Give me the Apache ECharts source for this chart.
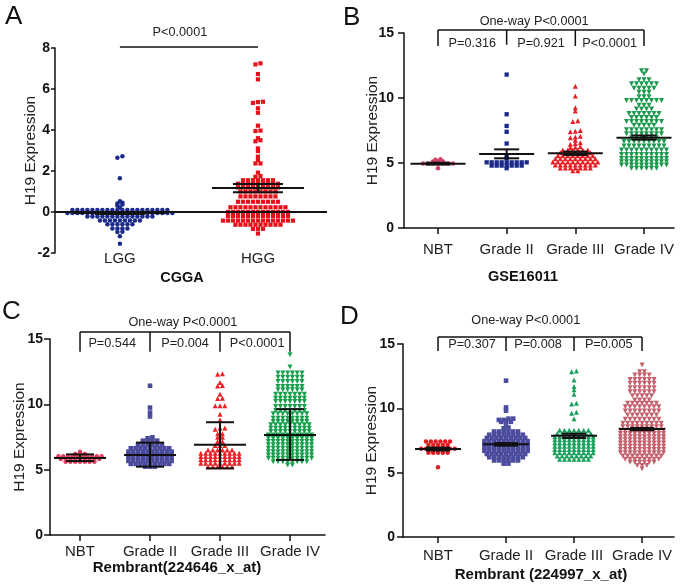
<!DOCTYPE html>
<html><head><meta charset="utf-8">
<script src="https://cdn.jsdelivr.net/npm/echarts@6/dist/echarts.min.js"></script>
<style>html,body{margin:0;padding:0;background:#fff}#c{width:682px;height:588px}</style>
</head><body><div id="c"></div>
<script>
// ---------------- DATA ----------------
const aCats = ['LGG','HGG'];
const gradeCats = ['NBT','Grade II','Grade III','Grade IV'];

// Panel A (CGGA)
const aLGG = [2.72,2.65,1.65,0.53,0.45,0.42,0.36,0.3,0.22,
0.1,0.1,0.1,0.1,0.1,0.1,0.1,0.1,0.1,0.1,0.1,0.1,0.1,0.1,0.1,0.1,0.1,0.1,0.1,0.1,
-0.05,-0.05,-0.05,-0.05,-0.05,-0.05,-0.05,-0.05,-0.05,-0.05,-0.05,-0.05,-0.05,-0.05,-0.05,-0.05,-0.05,-0.05,-0.05,-0.05,-0.05,-0.05,
-0.22,-0.22,-0.22,-0.22,-0.22,-0.22,-0.22,-0.22,-0.22,-0.22,-0.22,-0.22,-0.22,-0.22,
-0.42,-0.42,-0.42,-0.42,-0.42,-0.42,-0.42,-0.42,-0.42,
-0.6,-0.6,-0.6,-0.6,-0.6,-0.6,
-0.8,-0.8,-0.8,-0.8,
-0.96,-0.97,-1.18,-1.55];
const aHGG = [7.25,7.2,6.73,6.47,5.38,5.36,5.32,5.06,4.84,4.21,3.97,3.95,3.6,3.5,3.45,3.1,2.97,2.7,2.54,2.37,2.37,1.92,1.75,1.72,
1.55,1.55,1.55,1.55,1.55,1.55,1.55,
1.38,1.38,1.38,1.38,1.38,1.38,1.38,1.38,1.38,
1.2,1.2,1.2,1.2,1.2,1.2,1.2,1.2,1.2,
1.0,1.0,1.0,1.0,1.0,1.0,1.0,1.0,
0.76,0.76,0.76,0.76,0.76,0.76,0.76,0.76,
0.5,0.5,0.5,0.5,0.5,0.5,0.5,0.5,0.5,
0.23,0.23,0.23,0.23,0.23,0.23,0.23,0.23,0.23,0.23,0.23,0.23,
0,0,0,0,0,0,0,0,0,0,0,0,0,
-0.2,-0.2,-0.2,-0.2,-0.2,-0.2,-0.2,-0.2,-0.2,-0.2,-0.2,-0.2,-0.2,
-0.42,-0.42,-0.42,-0.42,-0.42,-0.42,-0.42,-0.42,-0.42,-0.42,-0.42,-0.42,-0.42,-0.42,-0.42,
-0.62,-0.62,-0.62,-0.62,-0.62,-0.62,-0.62,-0.62,-0.62,-0.62,
-0.82,-0.82,-0.82,-1.05];
const aMean = [-0.05, 1.17];
const aLo   = [-0.1, 0.96];
const aHi   = [0.0, 1.36];

// Panel B (GSE16011)
const bNBT = [5.28,5.25,5.12,5.12,5.12,4.97,4.97,4.97,4.97,4.97,4.97,4.97,4.6];
const bG2 = [11.8,8.75,7.85,7.4,6.5,5.55,5.35,
5.05,5.05,5.05,5.05,5.05,5.05,5.05,5.05,5.05,
4.8,4.8,4.8,4.8,4.8,4.8,4.8,4.6];
const bG3 = [10.9,10.15,9.25,9.0,8.25,8.2,7.5,7.45,7.4,7.05,7.0,6.95,6.75,6.55,6.5,6.45,6.25,6.22,6.2,
6.0,6.0,6.0,6.0,6.0,6.0,
5.78,5.78,5.78,5.78,5.78,5.78,5.78,
5.55,5.55,5.55,5.55,5.55,5.55,5.55,5.55,
5.32,5.32,5.32,5.32,5.32,5.32,5.32,5.32,5.32,
5.08,5.08,5.08,5.08,5.08,5.08,5.08,5.08,5.08,5.08,
4.85,4.85,4.85,4.85,4.85,4.85,4.85,4.85,4.85,
4.62,4.62,4.62,4.62,4.62,4.62,4.62,
4.4,4.4];
const bG4 = [12.1,12.1,11.85,11.4,11.4,11.4,
11.1,11.1,11.1,11.1,11.1,11.1,
10.75,10.75,10.75,10.75,10.75,
10.45,10.45,10.45,10.1,10.1,10.1,
9.8,9.8,9.8,9.8,9.8,9.8,9.8,9.8,
9.45,9.45,9.45,9.15,9.15,9.15,9.15,
8.8,8.8,8.8,8.8,8.8,8.8,8.8,
8.5,8.5,8.5,8.5,8.5,8.5,
8.2,8.2,8.2,8.2,8.2,8.2,8.2,8.2,
7.9,7.9,7.9,7.9,7.9,
7.55,7.55,7.55,7.55,7.55,7.55,7.55,7.55,
7.25,7.25,7.25,7.25,7.25,7.25,7.25,7.25,
6.95,6.95,6.95,6.95,6.95,6.95,
6.65,6.65,6.65,6.65,6.65,6.65,6.65,6.65,6.65,
6.3,6.3,6.3,6.3,6.3,6.3,6.3,6.3,6.3,
6.0,6.0,6.0,6.0,6.0,6.0,6.0,6.0,6.0,6.0,
5.65,5.65,5.65,5.65,5.65,5.65,5.65,5.65,5.65,5.65,
5.35,5.35,5.35,5.35,5.35,5.35,5.35,5.35,5.35,5.35,
5.1,5.1,5.1,5.1,5.1,5.1,5.1,5.1,5.1,5.1,
4.85,4.85,4.85,4.85,4.85,4.85,4.85,4.85,4.85,4.85,
4.6,4.6,4.6,4.6,4.6,4.6];
const bMean = [4.95, 5.69, 5.75, 6.95];
const bLo   = [4.88, 5.36, 5.62, 6.8];
const bHi   = [5.02, 6.05, 5.88, 7.12];

// Panel C (Rembrant 224646_x_at)
const cNBT = [6.38,6.2,6.2,6.2,
6.02,6.02,6.02,6.02,6.02,6.02,6.02,6.02,6.02,6.02,
5.82,5.82,5.82,5.82,5.82,5.82,5.82,5.82,5.82,
5.6,5.6,5.6,5.6,5.6,5.6,5.6];
const cG2 = [11.42,9.75,9.37,9.07,7.48,7.4,7.22,7.22,7.22,7.22,
6.9,6.9,6.9,6.9,6.9,6.9,
6.64,6.64,6.64,6.64,6.64,6.64,6.64,6.64,6.64,
6.38,6.38,6.38,6.38,6.38,6.38,6.38,6.38,6.38,6.38,
6.18,6.18,6.18,6.18,6.18,6.18,6.18,6.18,6.18,6.18,
5.92,5.92,5.92,5.92,5.92,5.92,5.92,5.92,5.92,5.92,
5.67,5.67,5.67,5.67,5.67,5.67,5.67,5.67,5.67,5.67,
5.44,5.44,5.44,5.44,5.44,5.44,5.44,5.44,5.44,
5.23,5.23,5.23];
const cG3 = [12.35,12.31,11.67,11.44,11.4,10.78,10.47,10.45,9.9,9.9,9.9,9.25,8.81,8.18,8.18,8.1,7.74,7.74,7.48,7.48,7.15,7.15,6.84,6.84,6.84,
6.51,6.51,6.51,6.51,6.51,6.51,
6.26,6.26,6.26,6.26,6.26,6.26,6.26,6.26,6.26,
6.0,6.0,6.0,6.0,6.0,6.0,6.0,6.0,6.0,
5.75,5.75,5.75,5.75,5.75,5.75,5.75,5.75,5.75,
5.49,5.49,5.49,5.49,5.49,5.49,5.49,5.49,5.49,
5.23,5.23,5.23,5.23,5.23,5.23];
const cG4 = [13.79,12.85,
12.39,12.39,12.39,12.39,12.39,12.39,
12.08,12.08,12.08,12.08,12.08,12.08,
11.75,11.75,11.75,11.75,11.75,11.75,
11.37,11.37,11.37,11.37,11.37,11.37,
11.11,11.11,11.11,11.11,11.11,11.11,
10.78,10.78,10.78,10.78,10.78,10.78,10.78,
10.47,10.47,10.47,10.47,10.47,10.47,10.47,
10.21,10.21,10.21,10.21,10.21,10.21,10.21,
9.83,9.83,9.83,9.83,9.83,9.83,9.83,
9.52,9.52,9.52,9.52,9.52,9.52,9.52,
9.27,9.27,9.27,9.27,9.27,9.27,9.27,9.27,
8.94,8.94,8.94,8.94,8.94,8.94,8.94,8.94,
8.68,8.68,8.68,8.68,8.68,8.68,8.68,8.68,
8.43,8.43,8.43,8.43,8.43,8.43,8.43,8.43,8.43,
8.17,8.17,8.17,8.17,8.17,8.17,8.17,8.17,8.17,
7.92,7.92,7.92,7.92,7.92,7.92,7.92,7.92,7.92,
7.66,7.66,7.66,7.66,7.66,7.66,7.66,7.66,7.66,7.66,
7.41,7.41,7.41,7.41,7.41,7.41,7.41,7.41,7.41,7.41,
7.15,7.15,7.15,7.15,7.15,7.15,7.15,7.15,7.15,7.15,
6.9,6.9,6.9,6.9,6.9,6.9,6.9,6.9,6.9,6.9,
6.64,6.64,6.64,6.64,6.64,6.64,6.64,6.64,6.64,6.64,
6.38,6.38,6.38,6.38,6.38,6.38,6.38,6.38,6.38,6.38,
6.13,6.13,6.13,6.13,6.13,6.13,6.13,6.13,6.13,6.13,
5.87,5.87,5.87,5.87,5.87,5.87,5.87,5.87,5.87,5.87,
5.61,5.61,5.61,5.61,5.61,5.61,5.61,5.61,
5.36,5.36];
const cMean = [5.9, 6.13, 6.9, 7.66];
const cLo   = [5.66, 5.23, 5.1, 5.75];
const cHi   = [6.17, 7.07, 8.63, 9.63];

// Panel D (Rembrant 224997_x_at)
const dNBT = [7.42,7.42,7.42,7.42,7.42,7.42,
7.15,7.15,7.15,7.15,7.15,
6.85,6.85,6.85,6.85,6.85,6.85,6.85,6.85,
6.55,6.55,6.55,6.55,6.55,5.42];
const dG2 = [12.15,10.07,9.82,9.2,9.2,9.1,9.1,8.95,8.95,8.95,8.6,8.5,8.45,
8.2,8.2,8.2,8.2,8.2,8.2,
7.95,7.95,7.95,7.95,7.95,7.95,7.95,7.95,
7.7,7.7,7.7,7.7,7.7,7.7,7.7,7.7,7.7,
7.45,7.45,7.45,7.45,7.45,7.45,7.45,7.45,7.45,7.45,
7.2,7.2,7.2,7.2,7.2,7.2,7.2,7.2,7.2,7.2,
6.95,6.95,6.95,6.95,6.95,6.95,6.95,6.95,6.95,6.95,
6.7,6.7,6.7,6.7,6.7,6.7,6.7,6.7,6.7,6.7,
6.45,6.45,6.45,6.45,6.45,6.45,6.45,6.45,6.45,
6.2,6.2,6.2,6.2,6.2,6.2,6.2,6.2,
5.95,5.95,5.95,5.95,5.95,5.95,
5.7,5.7];
const dG3 = [12.9,12.85,12.2,11.7,11.45,11.1,10.4,10.33,9.7,9.62,9.2,
8.3,8.3,8.3,8.3,8.3,8.3,8.3,
8.05,8.05,8.05,8.05,8.05,8.05,8.05,8.05,
7.8,7.8,7.8,7.8,7.8,7.8,7.8,7.8,7.8,
7.55,7.55,7.55,7.55,7.55,7.55,7.55,7.55,7.55,
7.3,7.3,7.3,7.3,7.3,7.3,7.3,7.3,7.3,
7.05,7.05,7.05,7.05,7.05,7.05,7.05,7.05,7.05,
6.8,6.8,6.8,6.8,6.8,6.8,6.8,6.8,6.8,
6.55,6.55,6.55,6.55,6.55,6.55,6.55,6.55,6.55,
6.3,6.3,6.3,6.3,6.3,6.3,6.3,6.3,
6.05,6.05,6.05,6.05,6.05,6.05,6.05];
const dG4 = [13.36,12.85,12.85,
12.59,12.59,12.59,12.59,
12.25,12.25,12.25,12.25,12.25,12.25,
11.94,11.94,11.94,11.94,11.94,11.94,
11.6,11.6,11.6,11.6,11.6,11.6,
11.29,11.29,11.29,11.29,11.29,11.29,
10.98,10.98,10.98,10.98,10.98,
10.64,10.64,10.64,10.64,
10.39,10.39,10.39,10.39,10.39,10.39,10.39,
10.13,10.13,10.13,10.13,10.13,10.13,10.13,10.13,
9.79,9.79,9.79,9.79,9.79,9.79,9.79,9.79,
9.48,9.48,9.48,9.48,9.48,9.48,9.48,
9.15,9.15,9.15,9.15,9.15,9.15,9.15,9.15,
8.84,8.84,8.84,8.84,8.84,8.84,8.84,8.84,8.84,
8.57,8.57,8.57,8.57,8.57,8.57,8.57,8.57,8.57,
8.3,8.3,8.3,8.3,8.3,8.3,8.3,8.3,8.3,8.3,
8.05,8.05,8.05,8.05,8.05,8.05,8.05,8.05,8.05,8.05,
7.8,7.8,7.8,7.8,7.8,7.8,7.8,7.8,7.8,7.8,
7.55,7.55,7.55,7.55,7.55,7.55,7.55,7.55,7.55,7.55,
7.3,7.3,7.3,7.3,7.3,7.3,7.3,7.3,7.3,7.3,
7.05,7.05,7.05,7.05,7.05,7.05,7.05,7.05,7.05,7.05,
6.8,6.8,6.8,6.8,6.8,6.8,6.8,6.8,6.8,6.8,
6.55,6.55,6.55,6.55,6.55,6.55,6.55,6.55,6.55,6.55,
6.3,6.3,6.3,6.3,6.3,6.3,6.3,6.3,6.3,
6.05,6.05,6.05,6.05,6.05,6.05,6.05,6.05,
5.8,5.8,5.8,5.8,5.8,5.8,
5.55,5.55,5.55,5.3];
const dMean = [6.83, 7.2, 7.87, 8.39];
const dLo   = [6.72, 7.1, 7.7, 8.3];
const dHi   = [6.95, 7.3, 8.03, 8.48];

// --------------- LAYOUT / STYLE ---------------
const FONT = '"Liberation Sans", Arial, Helvetica, sans-serif';
const INK = '#111';
const TXT = '#222';

const panels = [
 { letter:'A', letterPos:[5,17], title:'CGGA', titlePos:[182,278], titleSize:14.5,
   grid:{left:55,top:48,width:272,height:205}, xr:[-0.47,1.5], yr:[-2,8,2],
   cats:aCats, xLine:false, labelMargin:-2, yLabelMargin:5, yTick:4, nameGap:16,
   groups:[{vals:aLGG,color:'#1c2a8c',symbol:'circle',size:4.5},
           {vals:aHGG,color:'#e5121c',symbol:'rect',size:4.2}],
   stats:[aMean,aLo,aHi], meanW:92, capW:50, spacing:5,
   zeroLine:true,
   lines:[[0,8.05,1,8.05]],
   texts:[[0.435,8.78,'P<0.0001']] },
 { letter:'B', letterPos:[343,18], title:'GSE16011', titlePos:[523,277], titleSize:14.5,
   grid:{left:404,top:33,width:270,height:195}, xr:[-0.495,3.437], yr:[0,15,5],
   cats:gradeCats, xLine:true, labelMargin:14, yLabelMargin:10, yTick:6, nameGap:23.5,
   groups:[{vals:bNBT,color:'#d23f66',symbol:'circle',size:4.5},
           {vals:bG2,color:'#1b2a8a',symbol:'rect',size:4.3},
           {vals:bG3,color:'#e81e25',symbol:'triangle',size:5},
           {vals:bG4,color:'#1a9a4c',symbol:'triangle',size:5,rot:180}],
   stats:[bMean,bLo,bHi], meanW:55, capW:25, spacing:5,
   lines:[[0,15.23,3,15.23],[0,15.23,0,14.0],[1,15.23,1,14.1],[2,15.23,2,14.0],[3,15.23,3,14.0]],
   texts:[[1.4,15.92,'One-way P<0.0001'],[0.5,14.23,'P=0.316'],[1.5,14.23,'P=0.921'],[2.5,14.23,'P<0.0001']] },
 { letter:'C', letterPos:[2,312], title:'Rembrant(224646_x_at)', titlePos:[177,568], titleSize:15,
   grid:{left:50,top:339,width:275,height:196}, xr:[-0.429,3.5], yr:[0,15,5],
   cats:gradeCats, xLine:true, labelMargin:9, yLabelMargin:7, yTick:6, nameGap:22.5,
   groups:[{vals:cNBT,color:'#e0405e',symbol:'circle',size:4.5},
           {vals:cG2,color:'#4a4b9c',symbol:'rect',size:4.6},
           {vals:cG3,color:'#ec2227',symbol:'triangle',size:5},
           {vals:cG4,color:'#17a04c',symbol:'triangle',size:5,rot:180}],
   stats:[cMean,cLo,cHi], meanW:52, capW:28, spacing:4.8,
   lines:[[0,15.53,3,15.53],[0,15.53,0,14.03],[1,15.53,1,14.03],[2,15.53,2,14.03],[3,15.53,3,14.03]],
   texts:[[1.47,16.3,'One-way P<0.0001'],[0.46,14.69,'P=0.544'],[1.5,14.69,'P=0.004'],[2.53,14.69,'P<0.0001']] },
 { letter:'D', letterPos:[340,317], title:'Rembrant (224997_x_at)', titlePos:[541,575], titleSize:15,
   grid:{left:403,top:344,width:271,height:193}, xr:[-0.515,3.47], yr:[0,15,5],
   cats:gradeCats, xLine:true, labelMargin:11.5, yLabelMargin:8, yTick:6, nameGap:23,
   groups:[{vals:dNBT,color:'#e41b22',symbol:'circle',size:4.5},
           {vals:dG2,color:'#4c4c9e',symbol:'rect',size:4.6},
           {vals:dG3,color:'#1aa05c',symbol:'triangle',size:5},
           {vals:dG4,color:'#c4616c',symbol:'triangle',size:5,rot:180}],
   stats:[dMean,dLo,dHi], meanW:46, capW:24, spacing:4.8,
   lines:[[0,15.54,3,15.54],[0,15.54,0,14.45],[1,15.54,1,14.45],[2,15.54,2,14.45],[3,15.54,3,14.45]],
   texts:[[1.29,16.86,'One-way P<0.0001'],[0.5,15.0,'P=0.307'],[1.47,15.0,'P=0.008'],[2.51,15.0,'P=0.005']] }
];

// Prism-like row layout: points of (nearly) equal value share a row and are spread horizontally
function layoutGroup(vals, cat, pxPerY, pxPerX, spacing) {
  const tol = 1.5;
  const order = vals.map((v,i)=>i).sort((a,b)=>vals[a]-vals[b]);
  const out = new Array(vals.length);
  let row = [], start = 0;
  const flush = () => {
    const n = row.length;
    row.forEach((i,k)=>{ out[i] = [cat + (k-(n-1)/2)*spacing/pxPerX, vals[i]]; });
    row = [];
  };
  for (const i of order) {
    const py = vals[i]*pxPerY;
    if (row.length && py - start > tol) flush();
    if (!row.length) start = py;
    row.push(i);
  }
  flush();
  return out;
}

const grids=[], xAxes=[], yAxes=[], series=[], graphics=[];
const axisLineStyle = {color:INK, width:1.5};

panels.forEach((p, gi) => {
  grids.push(Object.assign({containLabel:false}, p.grid));
  const pxPerX = p.grid.width/(p.xr[1]-p.xr[0]);
  const pxPerY = p.grid.height/(p.yr[1]-p.yr[0]);
  const catIdx = p.cats.map((c,i)=>i);
  xAxes.push({
    gridIndex:gi, type:'value', min:p.xr[0], max:p.xr[1],
    axisLine:{show:p.xLine, onZero:false, lineStyle:axisLineStyle},
    axisTick:{show:p.xLine, customValues:catIdx, length:6, inside:false, lineStyle:axisLineStyle},
    axisLabel:{customValues:catIdx, formatter:(v)=>p.cats[Math.round(v)], margin:p.labelMargin,
               fontSize:15, color:TXT, fontFamily:FONT},
    splitLine:{show:false}
  });
  yAxes.push({
    gridIndex:gi, type:'value', min:p.yr[0], max:p.yr[1], interval:p.yr[2],
    axisLine:{show:true, onZero:false, lineStyle:axisLineStyle},
    axisTick:{show:true, length:p.yTick, lineStyle:axisLineStyle},
    axisLabel:{fontSize:14, fontWeight:'bold', color:INK, margin:p.yLabelMargin, fontFamily:FONT},
    splitLine:{show:false},
    name:'H19 Expression', nameLocation:'middle', nameGap:p.nameGap, nameMoveOverlap:false,
    nameTextStyle:{fontSize:15.5, color:TXT, fontFamily:FONT}
  });
  p.groups.forEach((g, ci) => {
    const s = {
      type:'scatter', xAxisIndex:gi, yAxisIndex:gi, silent:true, z:2,
      symbol:g.symbol, symbolSize:g.size, symbolRotate:g.rot||0,
      itemStyle:{color:g.color, opacity:1},
      data: layoutGroup(g.vals, ci, pxPerY, pxPerX, p.spacing)
    };
    if (p.zeroLine && ci===0) {
      s.markLine = {silent:true, symbol:'none', animation:false, label:{show:false},
        lineStyle:{color:INK, width:1.8, type:'solid'}, data:[{yAxis:0}]};
    }
    series.push(s);
  });
  // mean and error bars
  const [mArr, loArr, hiArr] = p.stats;
  const statData = mArr.map((m,i)=>[i, m, loArr[i], hiArr[i]]);
  series.push({
    type:'custom', xAxisIndex:gi, yAxisIndex:gi, silent:true, z:5, clip:false,
    data:statData,
    renderItem:(params, api) => {
      const x = api.value(0);
      const pm = api.coord([x, api.value(1)]);
      const pl = api.coord([x, api.value(2)]);
      const ph = api.coord([x, api.value(3)]);
      const st = {stroke:INK, lineWidth:2};
      return {type:'group', children:[
        {type:'line', shape:{x1:pm[0]-p.meanW/2, y1:pm[1], x2:pm[0]+p.meanW/2, y2:pm[1]}, style:st},
        {type:'line', shape:{x1:pl[0]-p.capW/2, y1:pl[1], x2:pl[0]+p.capW/2, y2:pl[1]}, style:st},
        {type:'line', shape:{x1:ph[0]-p.capW/2, y1:ph[1], x2:ph[0]+p.capW/2, y2:ph[1]}, style:st},
        {type:'line', shape:{x1:pl[0], y1:pl[1], x2:ph[0], y2:ph[1]}, style:st}
      ]};
    }
  });
  // significance brackets
  series.push({
    type:'custom', xAxisIndex:gi, yAxisIndex:gi, silent:true, z:6, clip:false,
    data:p.lines,
    renderItem:(params, api) => {
      const a = api.coord([api.value(0), api.value(1)]);
      const b = api.coord([api.value(2), api.value(3)]);
      return {type:'line', shape:{x1:a[0], y1:a[1], x2:b[0], y2:b[1]}, style:{stroke:INK, lineWidth:1.5}};
    }
  });
  series.push({
    type:'custom', xAxisIndex:gi, yAxisIndex:gi, silent:true, z:6, clip:false,
    data:p.texts.map(t=>[t[0], t[1]]),
    renderItem:(params, api) => {
      const a = api.coord([api.value(0), api.value(1)]);
      return {type:'text', x:a[0], y:a[1], style:{text:p.texts[params.dataIndex][2], fill:TXT,
        fontSize:12.7, fontFamily:FONT, align:'center', verticalAlign:'middle'}};
    }
  });
  graphics.push({type:'text', left:p.letterPos[0], top:p.letterPos[1]-13, silent:true,
    style:{text:p.letter, fontSize:26, fontFamily:FONT, fill:INK}});
  graphics.push({type:'text', x:p.titlePos[0], y:p.titlePos[1], silent:true,
    style:{text:p.title, fontSize:p.titleSize, fontWeight:'bold', fontFamily:FONT, fill:INK,
           align:'center', verticalAlign:'middle'}});
});

const chart = echarts.init(document.getElementById('c'));
chart.setOption({
  animation:false, backgroundColor:'#fff',
  grid:grids, xAxis:xAxes, yAxis:yAxes, series:series, graphic:graphics
});
</script></body></html>
